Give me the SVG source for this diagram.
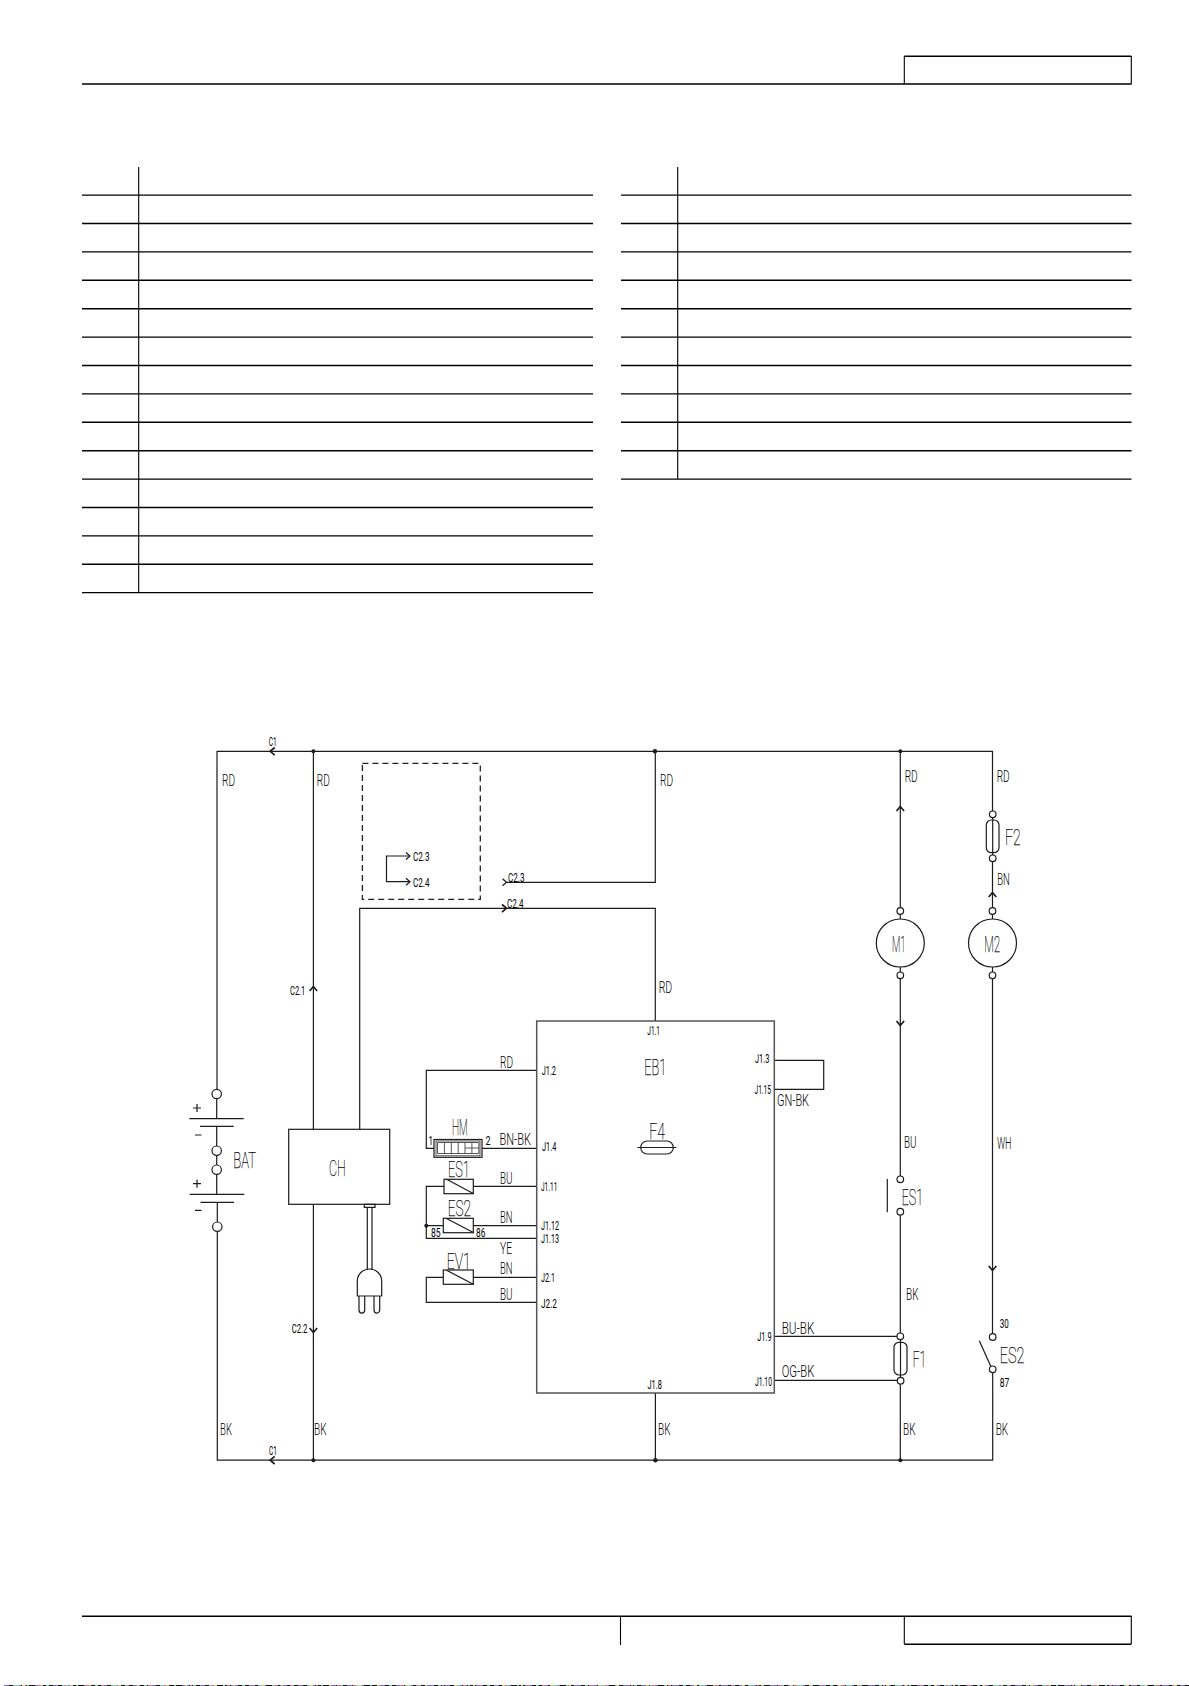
<svg xmlns="http://www.w3.org/2000/svg" xmlns:xlink="http://www.w3.org/1999/xlink" width="1189" height="1686" viewBox="0 0 1189 1686">
<style>
text{font-family:"Roboto","Liberation Sans",Arial,sans-serif;font-weight:300;fill:#000}
.m{font-size:16.5px}.s{font-size:13px;font-weight:400}.b{font-size:22px;font-weight:100;stroke:#000;stroke-width:.25}
.w{fill:none;stroke:#1c1c1c;stroke-width:1.2}
.f{fill:none;stroke:#000;stroke-width:1.4}
.h{fill:none;stroke:#000;stroke-width:1.1}
.c{fill:#fff;stroke:#1c1c1c;stroke-width:1.2}
.d{fill:#1c1c1c}
.a{fill:none;stroke:#1c1c1c;stroke-width:1.7}
.n{fill:none;stroke:#444;stroke-width:.9}
</style>
<defs>
<path id="ar" class="a" d="M-3.8,3 L0,-1.5 L3.8,3"/>
<path id="ao" class="w" d="M-3.5,4 L0,0 L3.5,4"/>
</defs>
<rect width="1189" height="1686" fill="#fff"/>
<g id="page-frame">
<path class="f" d="M82,84H1131.5M904.3,56.3H1131.3M82,1616.3H1131.5M904.3,1644.3H1131.3"/>
<path class="h" d="M904.3,56V84M1131.3,56V84M620.5,1616V1645M904.3,1616V1644M1131.3,1616V1644"/>
<g fill="none" stroke-width="1">
<path stroke="#111" d="M4,1685.5H1189"/>
<path stroke="#7a6bd0" stroke-dasharray="5 9 3 14 7 11" d="M4,1685.5H1189"/>
<path stroke="#6fd0a8" stroke-dasharray="3 13 6 8 2 17" stroke-dashoffset="7" d="M4,1685.5H1189"/>
<path stroke="#d86a8a" stroke-dasharray="2 19 4 12 3 23" stroke-dashoffset="3" d="M4,1685.5H1189"/>
<path stroke="#d8d060" stroke-dasharray="2 27 3 16" stroke-dashoffset="11" d="M4,1685.5H1189"/>
</g>
</g>
<g id="parts-table-left">
<path class="h" d="M138.7,167V592.6"/>
<path class="f" d="M82,195.1H593M82,223.5H593M82,251.9H593M82,280.3H593M82,308.7H593M82,337.1H593M82,365.5H593M82,393.9H593M82,422.3H593M82,450.7H593M82,479.1H593M82,507.5H593M82,535.9H593M82,564.2H593M82,592.6H593"/>
</g>
<g id="parts-table-right">
<path class="h" d="M677.7,167V479.1"/>
<path class="f" d="M621,195.1H1131.5M621,223.5H1131.5M621,251.9H1131.5M621,280.3H1131.5M621,308.7H1131.5M621,337.1H1131.5M621,365.5H1131.5M621,393.9H1131.5M621,422.3H1131.5M621,450.7H1131.5M621,479.1H1131.5"/>
</g>
<g id="connectors">
<path class="w" d="M217,1090V751.3H992.5V811"/>
<path class="w" d="M217.3,1231V1460.2H992.7V1372"/>
<path class="w" d="M216.7,1099V1118.7M216.7,1126.3V1146M216.7,1155V1165M216.7,1174.5V1194.3M217.3,1202.3V1222"/>
<path class="w" d="M313.4,751.3V1129.3M313.4,1204.3V1460.2"/>
<path class="w" d="M359.7,1129.3V908.3H655.3V1021"/>
<path class="w" d="M506,882.3H655.3V751.3"/>
<path class="w" d="M655.4,1393V1460.2"/>
<path class="w" d="M900.3,751.3V907.7M900.3,914.3V919M900.3,967V972M900.3,978.6V1176M900.3,1215V1333M900.3,1384V1460.2"/>
<path class="w" d="M992.5,861.6V907.7M992.5,914.3V919M992.5,967V972M992.5,978.6V1334"/>
<path class="w" d="M774.3,1060.3H823.7V1089.3H774.3"/>
<path class="w" d="M774.3,1336.3H897M774.3,1380.3H897"/>
<path class="w" d="M536.7,1070.3H426.3V1148.3H434M482,1148.3H536.7"/>
<path class="w" d="M444,1186.3H426.3V1238.3H536.7M473.3,1186.3H536.7"/>
<path class="w" d="M426.3,1225.7H443.3M473.3,1225.7H536.7"/>
<path class="w" d="M443.3,1277.3H426.3V1302.3H536.7M473.3,1277.3H536.7"/>
<path class="w" d="M410,856H386.5V881.7H410"/>
<path class="w" d="M406,852.5L410,856L406,859.5M406,878.2L410,881.7L406,885.2"/>
<use xlink:href="#ar" transform="translate(271.7,751.3) rotate(-90)"/>
<use xlink:href="#ar" transform="translate(271.7,1460.2) rotate(-90)"/>
<use xlink:href="#ar" transform="translate(313.4,988)"/>
<use xlink:href="#ar" transform="translate(313.4,1331) rotate(180)"/>
<use xlink:href="#ao" transform="translate(506.5,882.3) rotate(90)"/>
<use xlink:href="#ar" transform="translate(505,908.3) rotate(90)"/>
<use xlink:href="#ar" transform="translate(900.3,808)"/>
<use xlink:href="#ar" transform="translate(900.3,1024) rotate(180)"/>
<use xlink:href="#ar" transform="translate(992.5,894)"/>
<use xlink:href="#ar" transform="translate(992.5,1269) rotate(180)"/>
<circle class="d" cx="313.4" cy="751.3" r="2"/><circle class="d" cx="655" cy="751.3" r="2.2"/><circle class="d" cx="900.3" cy="751.3" r="2"/>
<circle class="d" cx="313.4" cy="1460.2" r="2"/><circle class="d" cx="655.4" cy="1460.2" r="2.2"/><circle class="d" cx="900.3" cy="1460.2" r="2"/>
<circle class="d" cx="426.3" cy="1225.7" r="2"/>
</g>
<g id="wire-labels">
<text class="s" x="268.8" y="746" textLength="8" lengthAdjust="spacingAndGlyphs">C1</text>
<text class="s" x="269" y="1455" textLength="8" lengthAdjust="spacingAndGlyphs">C1</text>
<text class="m" x="222" y="786" textLength="13" lengthAdjust="spacingAndGlyphs">RD</text>
<text class="m" x="316.8" y="786" textLength="13" lengthAdjust="spacingAndGlyphs">RD</text>
<text class="m" x="660" y="786" textLength="13" lengthAdjust="spacingAndGlyphs">RD</text>
<text class="m" x="658.7" y="992.5" textLength="13.5" lengthAdjust="spacingAndGlyphs">RD</text>
<text class="m" x="904.7" y="782" textLength="13" lengthAdjust="spacingAndGlyphs">RD</text>
<text class="m" x="996.7" y="782" textLength="13" lengthAdjust="spacingAndGlyphs">RD</text>
<text class="m" x="997.3" y="885" textLength="12.5" lengthAdjust="spacingAndGlyphs">BN</text>
<text class="m" x="904" y="1148" textLength="12.5" lengthAdjust="spacingAndGlyphs">BU</text>
<text class="m" x="997" y="1149" textLength="14.5" lengthAdjust="spacingAndGlyphs">WH</text>
<text class="m" x="906" y="1300" textLength="12.5" lengthAdjust="spacingAndGlyphs">BK</text>
<text class="m" x="220" y="1435" textLength="12" lengthAdjust="spacingAndGlyphs">BK</text>
<text class="m" x="314" y="1435" textLength="12.5" lengthAdjust="spacingAndGlyphs">BK</text>
<text class="m" x="658" y="1435" textLength="12.5" lengthAdjust="spacingAndGlyphs">BK</text>
<text class="m" x="903" y="1434.5" textLength="12.5" lengthAdjust="spacingAndGlyphs">BK</text>
<text class="m" x="995.7" y="1434.5" textLength="12.5" lengthAdjust="spacingAndGlyphs">BK</text>
<text class="m" x="500" y="1068" textLength="13" lengthAdjust="spacingAndGlyphs">RD</text>
<text class="m" x="499.5" y="1145" textLength="31.5" lengthAdjust="spacingAndGlyphs">BN-BK</text>
<text class="m" x="500" y="1184" textLength="12.5" lengthAdjust="spacingAndGlyphs">BU</text>
<text class="m" x="500" y="1223" textLength="12.5" lengthAdjust="spacingAndGlyphs">BN</text>
<text class="m" x="500" y="1254" textLength="12" lengthAdjust="spacingAndGlyphs">YE</text>
<text class="m" x="500" y="1274" textLength="12.5" lengthAdjust="spacingAndGlyphs">BN</text>
<text class="m" x="500" y="1300" textLength="12.5" lengthAdjust="spacingAndGlyphs">BU</text>
<text class="m" x="777" y="1105.5" textLength="32" lengthAdjust="spacingAndGlyphs">GN-BK</text>
<text class="m" x="781.7" y="1334" textLength="32.7" lengthAdjust="spacingAndGlyphs">BU-BK</text>
<text class="m" x="781.7" y="1376.5" textLength="32.7" lengthAdjust="spacingAndGlyphs">OG-BK</text>
<text class="s" x="290" y="995" textLength="15.3" lengthAdjust="spacingAndGlyphs">C2.1</text>
<text class="s" x="291.7" y="1333" textLength="15.6" lengthAdjust="spacingAndGlyphs">C2.2</text>
<text class="s" x="508" y="882" textLength="16.5" lengthAdjust="spacingAndGlyphs">C2.3</text>
<text class="s" x="507" y="907.5" textLength="16.5" lengthAdjust="spacingAndGlyphs">C2.4</text>
</g>
<g id="circuit-box">
<rect x="362.4" y="763.3" width="117.9" height="136" fill="none" stroke="#222" stroke-width="1.3" stroke-dasharray="6 4"/>
<text class="s" x="413" y="861" textLength="16.5" lengthAdjust="spacingAndGlyphs">C2.3</text>
<text class="s" x="413" y="886.5" textLength="16.5" lengthAdjust="spacingAndGlyphs">C2.4</text>
</g>
<g id="BAT">
<circle class="c" cx="216.7" cy="1094" r="4.7"/><circle class="c" cx="216.7" cy="1150.7" r="4.7"/><circle class="c" cx="216.7" cy="1169.7" r="4.7"/><circle class="c" cx="217.3" cy="1226.7" r="4.7"/>
<path class="w" d="M189.3,1118.7H243.7M200,1126.3H233.7M189.7,1194.3H244.3M200.5,1202.3H234"/>
<path class="w" d="M193,1108H201M197,1104V1112M195,1135H201.5M193,1183.7H201M197,1179.7V1187.7M195,1210.3H201.5"/>
<text class="b" x="233.3" y="1167.5" textLength="22.7" lengthAdjust="spacingAndGlyphs">BAT</text>
</g>
<g id="CH">
<rect class="w" x="288.7" y="1129.3" width="101" height="75"/>
<text class="b" x="329" y="1175.5" textLength="16.7" lengthAdjust="spacingAndGlyphs">CH</text>
<path class="w" d="M364.3,1204.3H375V1207.3H364.3ZM367.3,1207.3V1270M372,1207.3V1270"/>
<path class="w" d="M357.3,1296V1281A12.2,12 0 0 1 381.7,1281V1296ZM359,1296V1310A2.8,3 0 0 0 364.7,1310V1296M374,1296V1310A2.8,3 0 0 0 379.7,1310V1296"/>
</g>
<g id="EB1">
<rect x="536.7" y="1021" width="237.6" height="372" fill="none" stroke="#555" stroke-width="1.5"/>
<text class="b" x="644.3" y="1074.5" textLength="22" lengthAdjust="spacingAndGlyphs">EB1</text>
<text class="b" x="649.3" y="1138.5" textLength="15.7" lengthAdjust="spacingAndGlyphs">F4</text>
<rect class="w" x="640.7" y="1141" width="32.6" height="13" rx="6.5"/>
<path class="w" d="M637.3,1147.5H676.3"/>
<text class="s" x="647.3" y="1034.5" textLength="12.7" lengthAdjust="spacingAndGlyphs">J1.1</text>
<text class="s" x="541.7" y="1075.3" textLength="14.3" lengthAdjust="spacingAndGlyphs">J1.2</text>
<text class="s" x="542" y="1151.3" textLength="14.3" lengthAdjust="spacingAndGlyphs">J1.4</text>
<text class="s" x="541" y="1191.3" textLength="16.3" lengthAdjust="spacingAndGlyphs">J1.11</text>
<text class="s" x="541" y="1230" textLength="18" lengthAdjust="spacingAndGlyphs">J1.12</text>
<text class="s" x="541" y="1243.3" textLength="18" lengthAdjust="spacingAndGlyphs">J1.13</text>
<text class="s" x="541" y="1282" textLength="14" lengthAdjust="spacingAndGlyphs">J2.1</text>
<text class="s" x="541" y="1308" textLength="16" lengthAdjust="spacingAndGlyphs">J2.2</text>
<text class="s" x="647.5" y="1389" textLength="14.3" lengthAdjust="spacingAndGlyphs">J1.8</text>
<text class="s" x="755" y="1063.3" textLength="14.3" lengthAdjust="spacingAndGlyphs">J1.3</text>
<text class="s" x="754.5" y="1094" textLength="16.5" lengthAdjust="spacingAndGlyphs">J1.15</text>
<text class="s" x="757.3" y="1340.6" textLength="14.3" lengthAdjust="spacingAndGlyphs">J1.9</text>
<text class="s" x="755" y="1386.3" textLength="17" lengthAdjust="spacingAndGlyphs">J1.10</text>
</g>
<g id="HM">
<rect class="w" x="434" y="1139.5" width="48" height="17.8"/>
<rect class="n" x="436" y="1141" width="44" height="14.8"/>
<path class="n" d="M437.5,1142.5H478.8V1153.5H437.5ZM444.4,1142.5V1153.5M451.3,1142.5V1153.5M458.2,1142.5V1153.5M465,1142.5V1153.5M471.9,1142.5V1153.5M465,1148H478.8"/>
<text class="b" x="452" y="1135" textLength="15.7" lengthAdjust="spacingAndGlyphs">HM</text>
<text class="s" x="428.5" y="1144.5" textLength="4.5" lengthAdjust="spacingAndGlyphs">1</text>
<text class="s" x="485.5" y="1144.5" textLength="5" lengthAdjust="spacingAndGlyphs">2</text>
</g>
<g id="ES1-coil">
<rect class="w" x="444" y="1179.3" width="29.3" height="14.4"/><path class="w" d="M447,1179.5L473.3,1193.5"/>
<text class="b" x="448" y="1176.5" textLength="21.7" lengthAdjust="spacingAndGlyphs">ES1</text>
</g>
<g id="ES2-coil">
<rect class="w" x="443.3" y="1218.3" width="30" height="14.4"/><path class="w" d="M446.5,1218.5L473.3,1232.5"/>
<text class="b" x="447.7" y="1215.5" textLength="23.3" lengthAdjust="spacingAndGlyphs">ES2</text>
<text class="s" x="431" y="1236.8" textLength="9.7" lengthAdjust="spacingAndGlyphs">85</text>
<text class="s" x="476" y="1236.8" textLength="9.3" lengthAdjust="spacingAndGlyphs">86</text>
</g>
<g id="EV1">
<rect class="w" x="443.3" y="1270" width="30" height="14.3"/><path class="w" d="M446.5,1270.2L473.3,1284.2"/>
<text class="b" x="446.7" y="1268.5" textLength="24" lengthAdjust="spacingAndGlyphs">EV1</text>
</g>
<g id="M1">
<circle class="c" cx="900.3" cy="911" r="3.3"/><circle class="c" cx="900.3" cy="943" r="24"/><circle class="c" cx="900.3" cy="975.3" r="3.3"/>
<text class="b" x="892" y="952" textLength="13.7" lengthAdjust="spacingAndGlyphs">M1</text>
</g>
<g id="M2">
<circle class="c" cx="992.5" cy="911" r="3.3"/><circle class="c" cx="992.5" cy="943" r="24"/><circle class="c" cx="992.5" cy="975.3" r="3.3"/>
<text class="b" x="984.3" y="952" textLength="15.7" lengthAdjust="spacingAndGlyphs">M2</text>
</g>
<g id="F2">
<circle class="c" cx="992.7" cy="814.3" r="3.3"/>
<rect class="w" x="986.3" y="820" width="12.7" height="32.7" rx="5"/>
<path class="w" d="M992.7,817.6V855"/>
<circle class="c" cx="992.7" cy="858.3" r="3.3"/>
<text class="b" x="1005" y="844.5" textLength="15.7" lengthAdjust="spacingAndGlyphs">F2</text>
</g>
<g id="ES1-switch">
<circle class="c" cx="900.3" cy="1179.3" r="3.3"/><circle class="c" cx="900.3" cy="1211.7" r="3.3"/>
<path class="w" d="M887.3,1179V1212.3"/>
<text class="b" x="901.7" y="1204.7" textLength="21.3" lengthAdjust="spacingAndGlyphs">ES1</text>
</g>
<g id="F1">
<circle class="c" cx="900.3" cy="1336.3" r="3.3"/>
<rect class="w" x="894" y="1342.3" width="13" height="32.7" rx="5"/>
<path class="w" d="M900.5,1339.6V1377.4"/>
<circle class="c" cx="900.6" cy="1380.7" r="3.3"/>
<text class="b" x="912.7" y="1366.5" textLength="13.3" lengthAdjust="spacingAndGlyphs">F1</text>
</g>
<g id="ES2-switch">
<circle class="c" cx="992.7" cy="1337" r="3.3"/><circle class="c" cx="992.7" cy="1369.3" r="3.3"/>
<path class="w" d="M979.3,1340.7L991,1366.7"/>
<text class="b" x="999.7" y="1363" textLength="24.7" lengthAdjust="spacingAndGlyphs">ES2</text>
<text class="s" x="999.7" y="1328" textLength="9" lengthAdjust="spacingAndGlyphs">30</text>
<text class="s" x="999.7" y="1387.3" textLength="9.5" lengthAdjust="spacingAndGlyphs">87</text>
</g>
</svg>
